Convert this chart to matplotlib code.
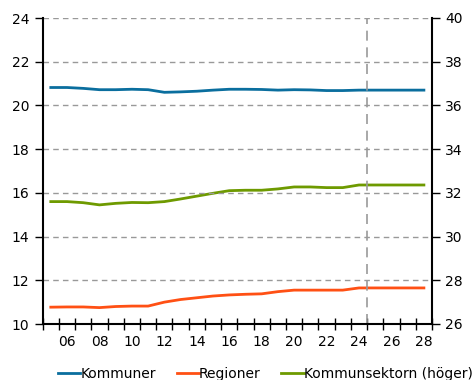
import matplotlib
matplotlib.use("Agg")
import matplotlib.pyplot as plt
import numpy as np

years = list(range(2005, 2029))
kommuner = [20.82, 20.82, 20.78, 20.72, 20.72, 20.74, 20.72, 20.60, 20.62, 20.65,
            20.70, 20.74, 20.74, 20.73, 20.70, 20.72, 20.71, 20.68, 20.68, 20.70,
            20.70, 20.70, 20.70, 20.70]
regioner = [10.77, 10.78, 10.78, 10.75, 10.80, 10.82, 10.82, 11.00, 11.12, 11.20,
            11.28, 11.33, 11.36, 11.38, 11.48, 11.55, 11.55, 11.55, 11.55, 11.65,
            11.65, 11.65, 11.65, 11.65]
kommunsektorn = [31.60, 31.60, 31.55, 31.45, 31.52, 31.56, 31.55, 31.60, 31.72, 31.85,
                 31.98, 32.10, 32.12, 32.12, 32.18, 32.27, 32.27, 32.24, 32.24, 32.36,
                 32.36, 32.36, 32.36, 32.36]
xtick_labels = ["06", "08", "10", "12", "14", "16", "18", "20", "22", "24", "26", "28"]
forecast_start = 2025

plt.rcParams['font.family'] = ['DejaVu Sans']
fig = plt.figure(figsize=(4.77, 3.80), dpi=100)
ax = fig.add_axes([42.7/477, 1 - 324/380, (432 - 42.7)/477, (324 - 18)/380])
ax2 = ax.twinx()

x = np.array(years) + 0.5
c_blue = "#0a6e9e"
c_red = "#ff5014"
c_green = "#6e9a00"
l1, = ax.plot(x, kommuner, color=c_blue, lw=2, label="Kommuner")
l2, = ax.plot(x, regioner, color=c_red, lw=2, label="Regioner")
l3, = ax2.plot(x, kommunsektorn, color=c_green, lw=2, label="Kommunsektorn (höger)")

ax.set_xlim(2005, 2029)
ax.set_ylim(10, 24)
ax2.set_ylim(26, 40)
ax.set_yticks(range(10, 25, 2))
ax2.set_yticks(range(26, 41, 2))
ax.set_xticks(range(2005, 2030), minor=False)
ax.set_xticklabels([])
ax.set_xticks([int("20" + s) + 0.5 for s in xtick_labels], minor=True)
ax.set_xticklabels(xtick_labels, minor=True)
ax.tick_params(axis='x', which='major', direction='inout', length=8, width=1, color='black')
ax.tick_params(axis='x', which='minor', length=0, labelsize=10, pad=8)
ax.tick_params(axis='y', direction='out', length=6, width=1, labelsize=10)
ax2.tick_params(axis='y', direction='out', length=6, width=1, labelsize=10)

ax.grid(axis='y', color='#999999', linestyle=(0, (4, 3)), lw=1)
ax.axvline(forecast_start, color='#999999', linestyle=(0, (6, 4)), lw=1.2)

ax.spines['top'].set_visible(False)
ax2.spines['top'].set_visible(False)
ax.spines['left'].set_linewidth(1.5)
ax2.spines['right'].set_linewidth(1.5)
ax.spines['bottom'].set_linewidth(1.5)
ax.spines['right'].set_visible(False)
ax2.spines['left'].set_visible(False)
ax2.spines['bottom'].set_visible(False)
ax.set_zorder(ax2.get_zorder() + 1)
ax.patch.set_visible(False)

fig.legend(handles=[l1, l2, l3], loc='lower center', bbox_to_anchor=(0.556, -0.035),
           ncol=3, frameon=False, fontsize=10, handlelength=1.6, handletextpad=0.0,
           columnspacing=1.5)

fig.savefig("out.png", dpi=100)
